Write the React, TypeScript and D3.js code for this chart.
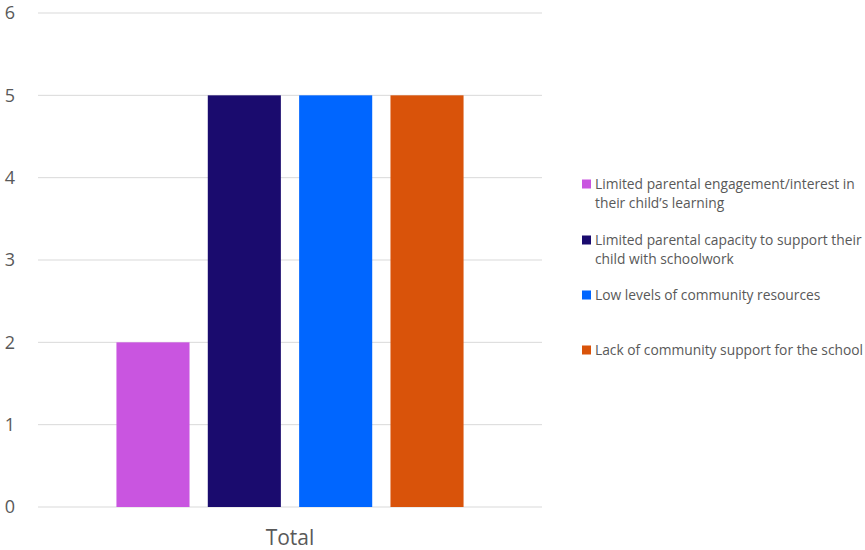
import React from "react";
import * as d3 from "d3";

const categories = ["Total"];
const seriesNames = [
  ["Limited parental engagement/interest in", "their child\u2019s learning"],
  ["Limited parental capacity to support their", "child with schoolwork"],
  ["Low levels of community resources"],
  ["Lack of community support for the school"],
];
const seriesValues = [2, 5, 5, 5];
const seriesColors = ["#C955E0", "#1A0B6E", "#0066FF", "#D9530A"];
const yTicks = [0, 1, 2, 3, 4, 5, 6];

const W = 865, H = 550;
const left = 38, right = 542, top = 13, bottom = 507;

export default function App() {
  const y = d3.scaleLinear().domain([0, 6]).range([bottom, top]);
  const x0 = d3.scaleBand().domain(categories).range([left, right]).paddingInner(0).paddingOuter(0.226);
  const x1 = d3.scaleBand().domain(seriesValues.map((_, i) => String(i))).range([0, x0.bandwidth()]).paddingInner(0.2).paddingOuter(0);
  const font = "'Open Sans', sans-serif";
  const legendY = [184, 240, 295, 350];
  return (
    <svg width={W} height={H} style={{ position: "absolute", left: 0, top: 0, background: "#fff" }} fontFamily={font}>
      {yTicks.map((t) => (
        <g key={t}>
          <line x1={left} x2={right} y1={y(t)} y2={y(t)} stroke="#D9D9D9" strokeWidth={1} />
          <text x={10} y={y(t)} dy="0.35em" textAnchor="middle" fontSize={18} fill="#595959">{t}</text>
        </g>
      ))}
      {categories.map((c) => (
        <g key={c}>
          {seriesValues.map((v, i) => (
            <rect key={i} x={(x0(c) as number) + (x1(String(i)) as number)} y={y(v)} width={x1.bandwidth()} height={y(0) - y(v)} fill={seriesColors[i]} />
          ))}
          <text x={(x0(c) as number) + x0.bandwidth() / 2} y={538} dy="0.35em" textAnchor="middle" fontSize={21} fill="#595959">{c}</text>
        </g>
      ))}
      {seriesNames.map((lines, i) => (
        <g key={i}>
          <rect x={582} y={legendY[i] - 4.5} width={9} height={9} fill={seriesColors[i]} />
          {lines.map((ln, j) => (
            <text key={j} x={595} y={legendY[i] + j * 19} dy="0.35em" fontSize={13.8} fill="#595959">{ln}</text>
          ))}
        </g>
      ))}
    </svg>
  );
}
